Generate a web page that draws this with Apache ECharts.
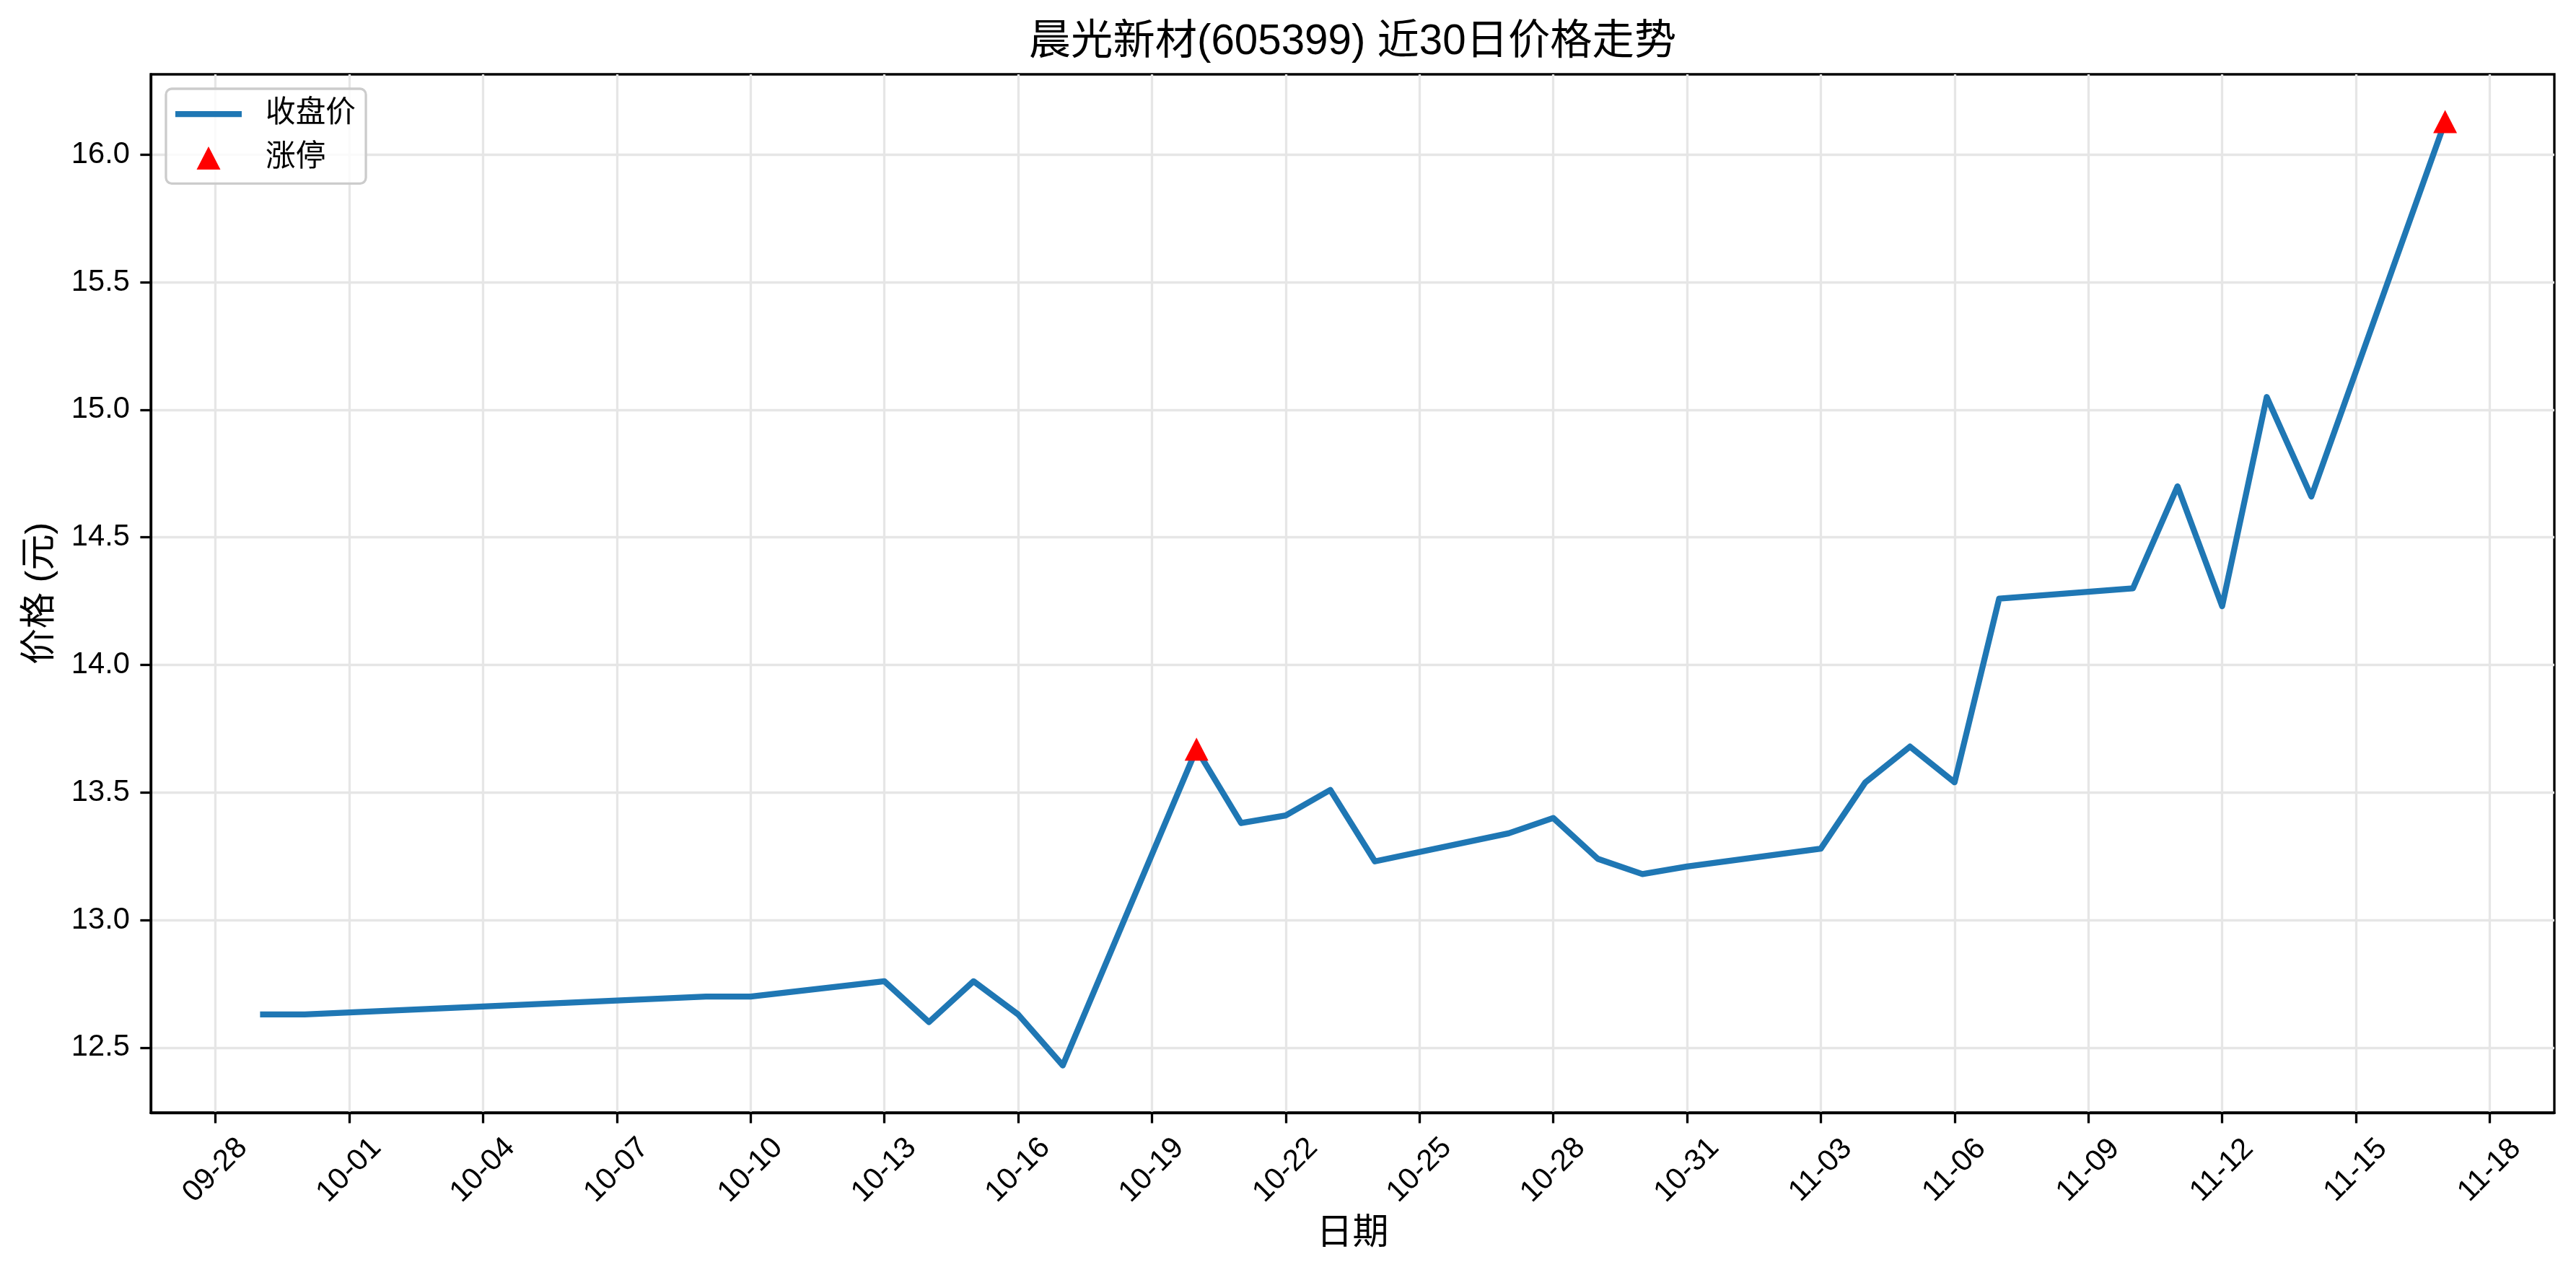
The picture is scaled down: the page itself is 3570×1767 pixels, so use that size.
<!DOCTYPE html>
<html><head><meta charset="utf-8">
<script src="https://cdn.jsdelivr.net/npm/echarts@6/dist/echarts.min.js"></script>
<style>html,body{margin:0;padding:0;background:#fff}#c{width:3570px;height:1767px}</style>
</head><body><div id="c"></div>
<script>
const YEAR = 2025;
const dates = ['09-29','09-30','10-09','10-10','10-13','10-14','10-15','10-16','10-17','10-20','10-21','10-22','10-23','10-24','10-27','10-28','10-29','10-30','10-31','11-03','11-04','11-05','11-06','11-07','11-10','11-11','11-12','11-13','11-14','11-17'];
const closePrices = [12.63,12.63,12.70,12.70,12.76,12.60,12.76,12.63,12.43,13.67,13.38,13.41,13.51,13.23,13.34,13.40,13.24,13.18,13.21,13.28,13.54,13.68,13.54,14.26,14.30,14.70,14.23,15.05,14.66,16.13];
const limitUpDates = ['10-20','11-17'];
const limitUpPrices = [13.67,16.13];
const xTickLabels = ['09-28','10-01','10-04','10-07','10-10','10-13','10-16','10-19','10-22','10-25','10-28','10-31','11-03','11-06','11-09','11-12','11-15','11-18'];
const yTickLabels = [12.5,13.0,13.5,14.0,14.5,15.0,15.5,16.0];

const FONT = "'Liberation Sans', Arial, 'Noto Sans CJK SC', sans-serif";
const DAY = 86400000;
const BASE = Date.UTC(YEAR, 0, 1);
// day number (days since Jan 1 of YEAR) for an 'MM-DD' string
function toDay(md){ const p = md.split('-'); return Math.round((Date.UTC(YEAR, +p[0]-1, +p[1]) - BASE)/DAY); }
function fromDay(n){ const d = new Date(BASE + Math.round(n)*DAY); return pad(d.getUTCMonth()+1)+'-'+pad(d.getUTCDate()); }
function pad(n){ return (n<10?'0':'')+n; }

const lineData = dates.map((d,i)=>[toDay(d), closePrices[i]]);
const limitData = limitUpDates.map((d,i)=>[toDay(d), limitUpPrices[i]]);

const xs = lineData.map(p=>p[0]);
const xLo = Math.min(...xs), xHi = Math.max(...xs);
const xMin = xLo - 0.05*(xHi-xLo), xMax = xHi + 0.05*(xHi-xLo);
const yLo = Math.min(...closePrices, ...limitUpPrices), yHi = Math.max(...closePrices, ...limitUpPrices);
const yMin = yLo - 0.05*(yHi-yLo), yMax = yHi + 0.05*(yHi-yLo);
const xTickVals = xTickLabels.map(toDay);

// legend icons drawn in a 92x33 box (zero-area anchors fix the box size)
const ICON_LINE = 'path://M0,12.6 L92,12.6 L92,20.9 L0,20.9 Z M0,0 L0.001,0 L0,0.001 Z M0,33 L0.001,33 L0,32.999 Z';
const ICON_TRI = 'path://M29.5,33 L46,1 L62.5,33 Z M0,0 L0.001,0 L0,0.001 Z M92,33 L91.999,33 L92,32.999 Z';

const chart = echarts.init(document.getElementById('c'), null, {renderer:'canvas'});
chart.setOption({
  animation: false,
  backgroundColor: '#ffffff',
  title: {
    text: '晨光新材(605399) 近30日价格走势',
    left: 1874.5, top: 30, padding: 0, textAlign: 'center',
    textStyle: {fontFamily: FONT, fontSize: 58.3, fontWeight: 'normal', color: '#000', lineHeight: 58}
  },
  grid: {left: 209, right: 30, top: 103, bottom: 225, show: true, borderColor: '#000', borderWidth: 3.3, backgroundColor: 'transparent', containLabel: false},
  legend: {
    orient: 'vertical', left: 230, top: 123,
    padding: [14, 14, 15, 13],
    itemWidth: 92, itemHeight: 33, itemGap: 19,
    backgroundColor: 'rgba(255,255,255,0.8)', borderColor: '#cccccc', borderWidth: 3.3, borderRadius: 8,
    selectedMode: false,
    textStyle: {fontFamily: FONT, fontSize: 41.7, color: '#000', padding: [0,0,0,28]},
    data: [
      {name: '收盘价', icon: ICON_LINE, itemStyle: {color: '#1f77b4', opacity: 1}},
      {name: '涨停', icon: ICON_TRI, itemStyle: {color: '#ff0000', opacity: 1}}
    ]
  },
  xAxis: {
    type: 'value', min: xMin, max: xMax,
    name: '日期', nameLocation: 'middle', nameGap: 168,
    nameTextStyle: {fontFamily: FONT, fontSize: 50, color: '#000', align: 'center', verticalAlign: 'middle'},
    axisLine: {show: true, lineStyle: {color: '#000', width: 3.3}},
    axisTick: {show: true, inside: false, length: 14.6, lineStyle: {color: '#000', width: 3.3}, customValues: xTickVals},
    axisLabel: {
      customValues: xTickVals, rotate: 45, margin: 80, align: 'center', verticalAlign: 'middle',
      fontFamily: FONT, fontSize: 41.7, color: '#000', hideOverlap: false,
      formatter: function(v){ return fromDay(v); }
    },
    splitLine: {show: true, lineStyle: {color: '#e6e6e6', width: 3.3}}
  },
  yAxis: {
    type: 'value', min: yMin, max: yMax,
    name: '价格 (元)', nameLocation: 'middle', nameGap: 153, nameRotate: 90,
    nameTextStyle: {fontFamily: FONT, fontSize: 50, color: '#000', align: 'center', verticalAlign: 'middle'},
    axisLine: {show: true, lineStyle: {color: '#000', width: 3.3}},
    axisTick: {show: true, inside: false, length: 14.6, lineStyle: {color: '#000', width: 3.3}, customValues: yTickLabels},
    axisLabel: {customValues: yTickLabels, margin: 29, fontFamily: FONT, fontSize: 41.7, color: '#000', formatter: function(v){ return (+v).toFixed(1); }},
    splitLine: {show: true, lineStyle: {color: '#e6e6e6', width: 3.3}}
  },
  series: [
    {
      name: '收盘价', type: 'line', data: lineData, symbol: 'none', showSymbol: false, smooth: false, z: 3,
      lineStyle: {color: '#1f77b4', width: 8.3, join: 'round', cap: 'butt'},
      itemStyle: {color: '#1f77b4'}
    },
    {
      name: '涨停', type: 'scatter', data: limitData, symbol: 'triangle', symbolSize: [33, 32], z: 4,
      itemStyle: {color: '#ff0000', opacity: 1}
    }
  ]
});
</script></body></html>
